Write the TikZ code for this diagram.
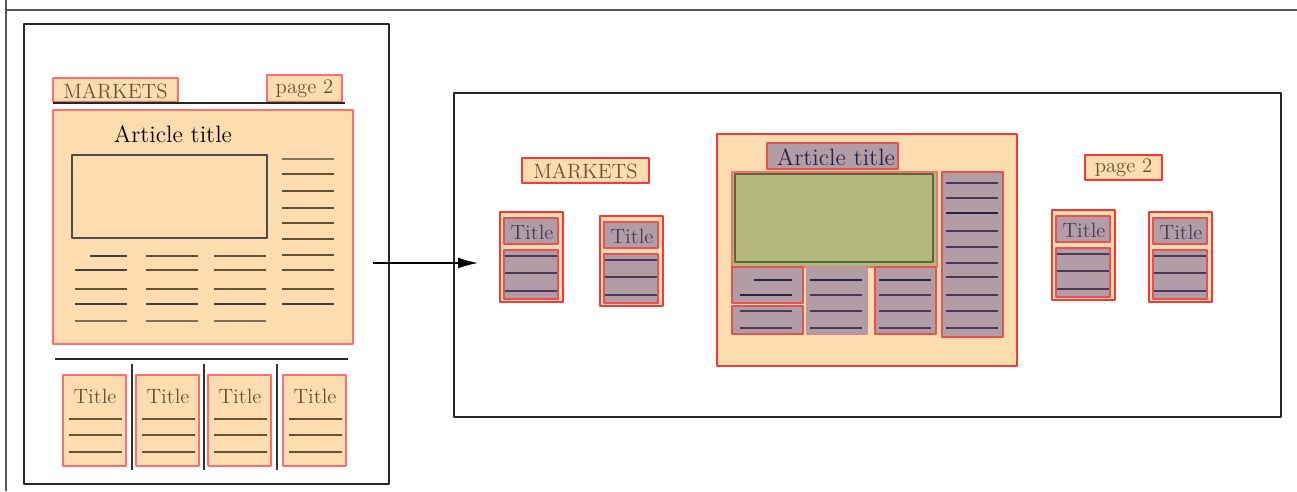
\documentclass[tikz,border=0pt]{standalone}
\usetikzlibrary{arrows.meta,positioning}

\definecolor{peach}{RGB}{253,220,176}
\definecolor{redsoft}{RGB}{255,110,110}
\definecolor{redstrong}{RGB}{250,55,55}
\definecolor{mauve}{RGB}{178,157,167}
\definecolor{olive}{RGB}{178,184,124}
\definecolor{darkolive}{RGB}{85,105,60}
\definecolor{inkbrown}{RGB}{100,82,55}
\definecolor{inkplum}{RGB}{72,58,88}
\definecolor{inknavy}{RGB}{40,36,70}
\definecolor{framegray}{RGB}{85,85,85}

\tikzset{
  pagebox/.style={draw=black!85, line width=0.8pt},
  peachsoft/.style={fill=peach, draw=redsoft, line width=1.2pt},
  peachred/.style={fill=peach, draw=redstrong, line width=1.1pt},
  mauvebox/.style={fill=mauve, draw=redstrong!75!mauve, line width=1pt},
  mauveplain/.style={fill=mauve, draw=mauve!80!redsoft, line width=0.6pt},
  brownline/.style={draw=inkbrown, line width=0.8pt},
  darkline/.style={draw=black!75, line width=1pt},
  plumline/.style={draw=inkplum, line width=0.8pt},
  boldplum/.style={draw=inknavy, line width=1.3pt},
  lbl/.style={inner sep=0pt, font=\fontsize{11.8}{13}\selectfont, text=inkbrown},
  headlbl/.style={inner sep=0pt, font=\fontsize{13.5}{15}\selectfont},
}

\begin{document}
\begin{tikzpicture}[x=0.02cm, y=-0.02cm, line join=round]
    \useasboundingbox (0,0) rectangle (1297,491);

    % outer cell rules
    \draw[framegray, line width=0.8pt] (6,0) -- (6,491);
    \draw[framegray, line width=0.8pt] (6,10) -- (1297,10);

    % ---- page layout (left) ----
    \draw[pagebox] (24,24) rectangle (389,484);

    \draw[peachsoft] (53,78) rectangle (178,102);
    \node[lbl] (mkt) at (115.5,91) {MARKETS};
    \draw[peachsoft] (267,75) rectangle (342,102);
    \node[lbl] (pg) at (304.5,89) {page 2};
    \draw[black!85, line width=0.8pt] (53,103) -- (345,103);

    \draw[peachsoft] (53,110) rectangle (353,344);
    \node[headlbl] (arttitle) at (173,134) {Article title};
    \draw[draw=black!70, line width=0.9pt] (72,155) rectangle (267,238);

    % text columns of the article
    \draw[draw=inkbrown!80, line width=1.3pt] (282,159) -- (334,159);
    \foreach \y in {174,191,208,223,239,255,270,289}
        \draw[brownline] (282,\y) -- (334,\y);
    \draw[darkline] (282,304) -- (334,304);
    \draw[darkline] (90,256) -- (127,256);
    \draw[darkline] (75,270) -- (127,270);
    \foreach \x in {146,214}
    {
        \draw[brownline] (\x,256) -- (\x+52,256);
        \draw[brownline] (\x,270) -- (\x+52,270);
    }
    \foreach \x in {75,146,214}
    {
        \draw[brownline] (\x,289) -- (\x+52,289);
        \draw[darkline] (\x,304) -- (\x+52,304);
        \draw[brownline, draw opacity=0.8] (\x,321) -- (\x+52,321);
    }

    \draw[black!85, line width=0.8pt] (55,359) -- (348,359);
    \foreach \x in {132,204,277}
        \draw[black!80, line width=1pt] (\x,364) -- (\x,470);

    % short items at the foot
    \foreach \x/\n in {63/1,136/2,208/3,283/4}
    {
        \draw[peachsoft] (\x,375) rectangle (\x+63,466);
        \node[lbl] (foot\n) at (\x+32,396) {Title};
        \foreach \y in {419,435,452}
            \draw[brownline] (\x+6,\y) -- (\x+59,\y);
    }

    % ---- decomposition (right) ----
    \draw[pagebox] (454,93) rectangle (1281,417);
    \coordinate (arrfrom) at (373,263);
    \coordinate (arrto) at (478,263);
    \draw[black, line width=0.8pt, -{Latex[length=0.4cm, width=0.22cm]}] (arrfrom) -- (arrto);

    \draw[peachred] (522,158) rectangle (649,183);
    \node[lbl] (mktb) at (585.5,171) {MARKETS};
    \draw[peachred] (1085,155) rectangle (1162,180);
    \node[lbl] (pgb) at (1123.5,168) {page 2};

    % single items
    \foreach \x/\y/\n in {500/212/1,600/216/2,1052/210/3,1149/212/4}
    {
        \draw[peachred] (\x,\y) rectangle (\x+63,\y+90);
        \draw[mauvebox] (\x+4,\y+6) rectangle (\x+58,\y+32);
        \node[lbl, text=inkplum] (item\n) at (\x+32,\y+20) {Title};
        \draw[mauvebox] (\x+4,\y+38) rectangle (\x+58,\y+87);
        \foreach \d in {44,61,79}
            \draw[plumline] (\x+5,\y+\d) -- (\x+57,\y+\d);
    }

    % the article, split into its blocks
    \draw[peachred] (717,134) rectangle (1017,366);
    \draw[mauvebox] (767,143) rectangle (898,169);
    \node[headlbl, text=inknavy] (arttitleb) at (836,157) {Article title};
    \draw[fill=olive, draw=redsoft, line width=1pt] (732,172) rectangle (937,267);
    \draw[draw=darkolive, line width=1pt] (735,174) rectangle (933,262);

    \draw[mauvebox] (942,172) rectangle (1003,337);
    \foreach \y in {183,198,231,247,263,277,295,311,328}
        \draw[plumline] (946,\y) -- (998,\y);
    \draw[boldplum] (946,213) -- (998,213);

    \draw[mauvebox] (732,267) rectangle (803,303);
    \draw[boldplum, line width=1.6pt] (754,280) -- (792,280);
    \draw[boldplum] (740,295) -- (792,295);
    \draw[mauvebox] (732,306) rectangle (803,334);
    \foreach \y in {311,328}
        \draw[plumline] (740,\y) -- (792,\y);

    \draw[mauveplain] (807,267) rectangle (867,334);
    \draw[mauvebox] (875,267) rectangle (936,334);
    \foreach \x in {810,879}
    {
        \draw[boldplum] (\x,280) -- (\x+52,280);
        \foreach \y in {295,311,328}
            \draw[plumline] (\x,\y) -- (\x+52,\y);
    }
\end{tikzpicture}
\end{document}
